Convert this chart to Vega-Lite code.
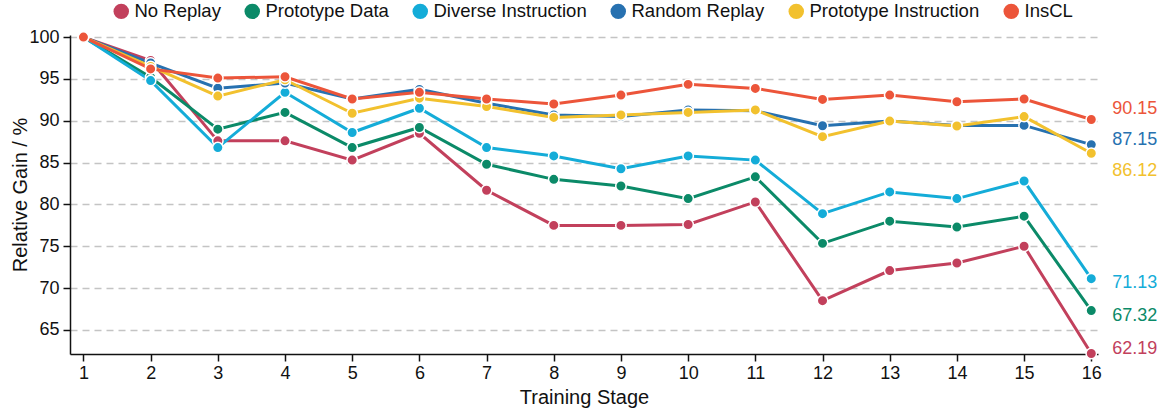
{
  "$schema": "https://vega.github.io/schema/vega-lite/v6.json",
  "width": 1028,
  "height": 319,
  "autosize": "none",
  "padding": {"left": 70, "top": 35, "right": 68, "bottom": 58},
  "background": "white",
  "config": {
    "font": "Liberation Sans",
    "view": {"stroke": null},
    "axis": {"labelFont": "Liberation Sans", "titleFont": "Liberation Sans", "labelColor": "#111", "titleColor": "#111", "titleFontWeight": "normal", "domainColor": "#111", "tickColor": "#111", "domainWidth": 1.5, "tickWidth": 1.5}
  },
  "data": {
    "values": [
      {"stage": 1, "series": "No Replay", "value": 100},
      {"stage": 2, "series": "No Replay", "value": 97.2},
      {"stage": 3, "series": "No Replay", "value": 87.6},
      {"stage": 4, "series": "No Replay", "value": 87.6},
      {"stage": 5, "series": "No Replay", "value": 85.3},
      {"stage": 6, "series": "No Replay", "value": 88.5},
      {"stage": 7, "series": "No Replay", "value": 81.7},
      {"stage": 8, "series": "No Replay", "value": 77.5},
      {"stage": 9, "series": "No Replay", "value": 77.5},
      {"stage": 10, "series": "No Replay", "value": 77.6},
      {"stage": 11, "series": "No Replay", "value": 80.3},
      {"stage": 12, "series": "No Replay", "value": 68.5},
      {"stage": 13, "series": "No Replay", "value": 72.1},
      {"stage": 14, "series": "No Replay", "value": 73.0},
      {"stage": 15, "series": "No Replay", "value": 75.0},
      {"stage": 16, "series": "No Replay", "value": 62.19},
      {"stage": 1, "series": "Prototype Data", "value": 100},
      {"stage": 2, "series": "Prototype Data", "value": 95.2},
      {"stage": 3, "series": "Prototype Data", "value": 89.0},
      {"stage": 4, "series": "Prototype Data", "value": 91.0},
      {"stage": 5, "series": "Prototype Data", "value": 86.8},
      {"stage": 6, "series": "Prototype Data", "value": 89.2},
      {"stage": 7, "series": "Prototype Data", "value": 84.8},
      {"stage": 8, "series": "Prototype Data", "value": 83.0},
      {"stage": 9, "series": "Prototype Data", "value": 82.2},
      {"stage": 10, "series": "Prototype Data", "value": 80.7},
      {"stage": 11, "series": "Prototype Data", "value": 83.3},
      {"stage": 12, "series": "Prototype Data", "value": 75.35},
      {"stage": 13, "series": "Prototype Data", "value": 78.0},
      {"stage": 14, "series": "Prototype Data", "value": 77.3},
      {"stage": 15, "series": "Prototype Data", "value": 78.6},
      {"stage": 16, "series": "Prototype Data", "value": 67.32},
      {"stage": 1, "series": "Diverse Instruction", "value": 100},
      {"stage": 2, "series": "Diverse Instruction", "value": 94.8},
      {"stage": 3, "series": "Diverse Instruction", "value": 86.8},
      {"stage": 4, "series": "Diverse Instruction", "value": 93.4},
      {"stage": 5, "series": "Diverse Instruction", "value": 88.6},
      {"stage": 6, "series": "Diverse Instruction", "value": 91.5},
      {"stage": 7, "series": "Diverse Instruction", "value": 86.8},
      {"stage": 8, "series": "Diverse Instruction", "value": 85.8},
      {"stage": 9, "series": "Diverse Instruction", "value": 84.27},
      {"stage": 10, "series": "Diverse Instruction", "value": 85.8},
      {"stage": 11, "series": "Diverse Instruction", "value": 85.3},
      {"stage": 12, "series": "Diverse Instruction", "value": 78.9},
      {"stage": 13, "series": "Diverse Instruction", "value": 81.5},
      {"stage": 14, "series": "Diverse Instruction", "value": 80.7},
      {"stage": 15, "series": "Diverse Instruction", "value": 82.8},
      {"stage": 16, "series": "Diverse Instruction", "value": 71.13},
      {"stage": 1, "series": "Random Replay", "value": 100},
      {"stage": 2, "series": "Random Replay", "value": 96.9},
      {"stage": 3, "series": "Random Replay", "value": 93.9},
      {"stage": 4, "series": "Random Replay", "value": 94.5},
      {"stage": 5, "series": "Random Replay", "value": 92.6},
      {"stage": 6, "series": "Random Replay", "value": 93.75},
      {"stage": 7, "series": "Random Replay", "value": 92.1},
      {"stage": 8, "series": "Random Replay", "value": 90.7},
      {"stage": 9, "series": "Random Replay", "value": 90.5},
      {"stage": 10, "series": "Random Replay", "value": 91.3},
      {"stage": 11, "series": "Random Replay", "value": 91.2},
      {"stage": 12, "series": "Random Replay", "value": 89.4},
      {"stage": 13, "series": "Random Replay", "value": 89.96},
      {"stage": 14, "series": "Random Replay", "value": 89.45},
      {"stage": 15, "series": "Random Replay", "value": 89.45},
      {"stage": 16, "series": "Random Replay", "value": 87.15},
      {"stage": 1, "series": "Prototype Instruction", "value": 100},
      {"stage": 2, "series": "Prototype Instruction", "value": 96.5},
      {"stage": 3, "series": "Prototype Instruction", "value": 92.95},
      {"stage": 4, "series": "Prototype Instruction", "value": 94.9},
      {"stage": 5, "series": "Prototype Instruction", "value": 90.9},
      {"stage": 6, "series": "Prototype Instruction", "value": 92.7},
      {"stage": 7, "series": "Prototype Instruction", "value": 91.7},
      {"stage": 8, "series": "Prototype Instruction", "value": 90.4},
      {"stage": 9, "series": "Prototype Instruction", "value": 90.7},
      {"stage": 10, "series": "Prototype Instruction", "value": 91.0},
      {"stage": 11, "series": "Prototype Instruction", "value": 91.3},
      {"stage": 12, "series": "Prototype Instruction", "value": 88.1},
      {"stage": 13, "series": "Prototype Instruction", "value": 89.96},
      {"stage": 14, "series": "Prototype Instruction", "value": 89.37},
      {"stage": 15, "series": "Prototype Instruction", "value": 90.5},
      {"stage": 16, "series": "Prototype Instruction", "value": 86.12},
      {"stage": 1, "series": "InsCL", "value": 100},
      {"stage": 2, "series": "InsCL", "value": 96.2},
      {"stage": 3, "series": "InsCL", "value": 95.1},
      {"stage": 4, "series": "InsCL", "value": 95.26},
      {"stage": 5, "series": "InsCL", "value": 92.6},
      {"stage": 6, "series": "InsCL", "value": 93.4},
      {"stage": 7, "series": "InsCL", "value": 92.6},
      {"stage": 8, "series": "InsCL", "value": 92.0},
      {"stage": 9, "series": "InsCL", "value": 93.07},
      {"stage": 10, "series": "InsCL", "value": 94.35},
      {"stage": 11, "series": "InsCL", "value": 93.87},
      {"stage": 12, "series": "InsCL", "value": 92.55},
      {"stage": 13, "series": "InsCL", "value": 93.07},
      {"stage": 14, "series": "InsCL", "value": 92.27},
      {"stage": 15, "series": "InsCL", "value": 92.6},
      {"stage": 16, "series": "InsCL", "value": 90.15}
    ]
  },
  "encoding": {
    "x": {
      "field": "stage", "type": "quantitative",
      "scale": {"domain": [0.8, 16.1], "nice": false, "zero": false},
      "axis": {"title": "Training Stage", "values": [1,2,3,4,5,6,7,8,9,10,11,12,13,14,15,16], "format": "d", "grid": false, "labelFontSize": 18, "titleFontSize": 20, "tickSize": 7, "labelPadding": 3, "titlePadding": 5, "labelFlush": false}
    },
    "y": {
      "field": "value", "type": "quantitative",
      "scale": {"domain": [62.13, 100.25], "nice": false, "zero": false},
      "axis": {"title": "Relative Gain / %", "values": [65,70,75,80,85,90,95,100], "labelFontSize": 18, "titleFontSize": 20, "tickSize": 7, "labelPadding": 4, "titlePadding": -2, "grid": true, "gridDash": [7, 5], "gridColor": "#c4c4c4", "gridWidth": 1.5, "labelFlush": false}
    },
    "color": {
      "field": "series", "type": "nominal",
      "scale": {
        "domain": ["No Replay", "Prototype Data", "Diverse Instruction", "Random Replay", "Prototype Instruction", "InsCL"],
        "range": ["#C2405C", "#0B8A68", "#14ACD8", "#2771B0", "#F2C12E", "#EC553A"]
      },
      "legend": {
        "orient": "none", "direction": "horizontal", "legendX": 42, "legendY": -33,
        "title": null, "symbolType": "circle", "symbolSize": 240, "symbolStrokeWidth": 0,
        "labelFontSize": 18.5, "labelFont": "Liberation Sans", "labelColor": "#111", "columnPadding": 22, "labelOffset": 4, "labelLimit": 300
      }
    }
  },
  "layer": [
    {"mark": {"type": "line", "strokeWidth": 3}},
    {"mark": {"type": "point", "filled": true, "size": 110, "stroke": "white", "strokeWidth": 1.5, "opacity": 1}},
    {"transform": [{"filter": "datum.stage == 16 && datum.series == 'InsCL'"}], "mark": {"type": "text", "align": "left", "baseline": "middle", "dx": 21, "dy": -11, "fontSize": 18}, "encoding": {"text": {"field": "value", "format": ".2f"}}},
    {"transform": [{"filter": "datum.stage == 16 && datum.series == 'Random Replay'"}], "mark": {"type": "text", "align": "left", "baseline": "middle", "dx": 21, "dy": -5, "fontSize": 18}, "encoding": {"text": {"field": "value", "format": ".2f"}}},
    {"transform": [{"filter": "datum.stage == 16 && datum.series == 'Prototype Instruction'"}], "mark": {"type": "text", "align": "left", "baseline": "middle", "dx": 21, "dy": 18, "fontSize": 18}, "encoding": {"text": {"field": "value", "format": ".2f"}}},
    {"transform": [{"filter": "datum.stage == 16 && datum.series == 'Diverse Instruction'"}], "mark": {"type": "text", "align": "left", "baseline": "middle", "dx": 21, "dy": 4, "fontSize": 18}, "encoding": {"text": {"field": "value", "format": ".2f"}}},
    {"transform": [{"filter": "datum.stage == 16 && datum.series == 'Prototype Data'"}], "mark": {"type": "text", "align": "left", "baseline": "middle", "dx": 21, "dy": 5, "fontSize": 18}, "encoding": {"text": {"field": "value", "format": ".2f"}}},
    {"transform": [{"filter": "datum.stage == 16 && datum.series == 'No Replay'"}], "mark": {"type": "text", "align": "left", "baseline": "middle", "dx": 21, "dy": -4, "fontSize": 18}, "encoding": {"text": {"field": "value", "format": ".2f"}}}
  ]
}
